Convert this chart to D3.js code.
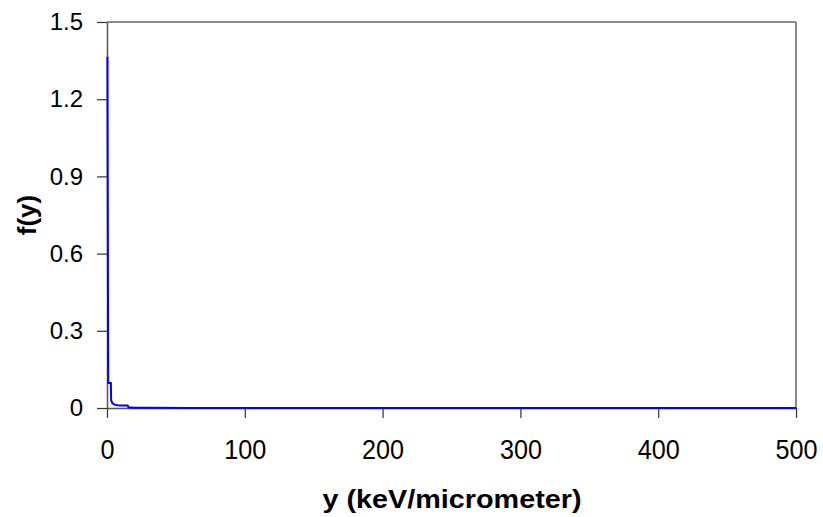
<!DOCTYPE html>
<html>
<head>
<meta charset="utf-8">
<script src="https://cdn.jsdelivr.net/npm/d3@7"></script>
<style>
  body { margin: 0; background: #fff; }
  text { font-family: "Liberation Sans", Arial, sans-serif; fill: #000; }
</style>
</head>
<body>
<div id="chart"></div>
<script>
// spectrum values, y in keV/micrometer and f(y)
var yValues = [0.3, 0.5, 0.7, 0.9, 2.8, 3.0, 4.0, 5.5, 7.5, 10, 15, 15.5, 20, 30, 60, 100, 200, 300, 400, 500];
var fValues = [1.365, 0.9, 0.45, 0.097, 0.097, 0.03, 0.018, 0.013, 0.011, 0.01, 0.01, 0.003, 0.001, 0.0005, 0.0002, 0.0001, 0, 0, 0, 0];
var xTicks = [0, 100, 200, 300, 400, 500];
var yTicks = [0, 0.3, 0.6, 0.9, 1.2, 1.5];

var width = 823,
    height = 517,
    plotLeft = 107, plotRight = 796, plotTop = 22, plotBottom = 408;

var svg = d3.select("#chart")
  .append("svg")
    .attr("width", width)
    .attr("height", height);

var x = d3.scaleLinear().domain([0, 500]).range([plotLeft, plotRight]);
var y = d3.scaleLinear().domain([0, 1.5]).range([plotBottom, plotTop]);

// frame on top and right
svg.append("line")
  .attr("x1", plotLeft).attr("x2", plotRight)
  .attr("y1", plotTop).attr("y2", plotTop)
  .attr("stroke", "#666").attr("stroke-width", 1.5);
svg.append("line")
  .attr("x1", plotRight).attr("x2", plotRight)
  .attr("y1", plotTop).attr("y2", plotBottom)
  .attr("stroke", "#888").attr("stroke-width", 2);

var data = yValues.map(function(v, i) { return {x: v, f: fValues[i]}; });

var xAxis = svg.append("g")
  .attr("transform", `translate(0,${plotBottom})`)
  .call(d3.axisBottom(x).tickValues(xTicks).tickSize(10).tickPadding(21).tickSizeOuter(0).tickFormat(d3.format("d")));

var yAxis = svg.append("g")
  .attr("transform", `translate(${plotLeft},0)`)
  .call(d3.axisLeft(y).tickValues(yTicks).tickSize(10).tickPadding(14).tickSizeOuter(0).tickFormat(function(d) { return d === 0 ? "0" : d3.format(".1f")(d); }));

[xAxis, yAxis].forEach(function(a) {
  a.select(".domain").attr("stroke", "#555").attr("stroke-width", 1.5);
  a.selectAll(".tick line").attr("stroke", "#333").attr("stroke-width", 1.2);
  a.selectAll(".tick text").attr("fill", "#000").style("font-family", "Liberation Sans, Arial, sans-serif");
});
yAxis.selectAll(".tick text").style("font-size", "24px");
xAxis.selectAll(".tick text")
  .style("font-size", "28px")
  .attr("textLength", function(d) { return String(d).length * 14; })
  .attr("lengthAdjust", "spacingAndGlyphs");

// the curve
svg.append("path")
  .datum(data)
  .attr("fill", "none")
  .attr("stroke", "#0000ff")
  .attr("stroke-width", 2)
  .attr("d", d3.line()
    .x(function(d) { return x(d.x); })
    .y(function(d) { return y(d.f); }));

// axis titles
svg.append("text")
  .attr("x", 452).attr("y", 508)
  .attr("text-anchor", "middle")
  .attr("textLength", 259)
  .attr("lengthAdjust", "spacingAndGlyphs")
  .style("font-size", "25px")
  .style("font-weight", "bold")
  .text("y (keV/micrometer)");

svg.append("text")
  .attr("transform", "translate(36,215) rotate(-90)")
  .attr("text-anchor", "middle")
  .style("font-size", "26px")
  .style("font-weight", "bold")
  .text("f(y)");
</script>
</body>
</html>
